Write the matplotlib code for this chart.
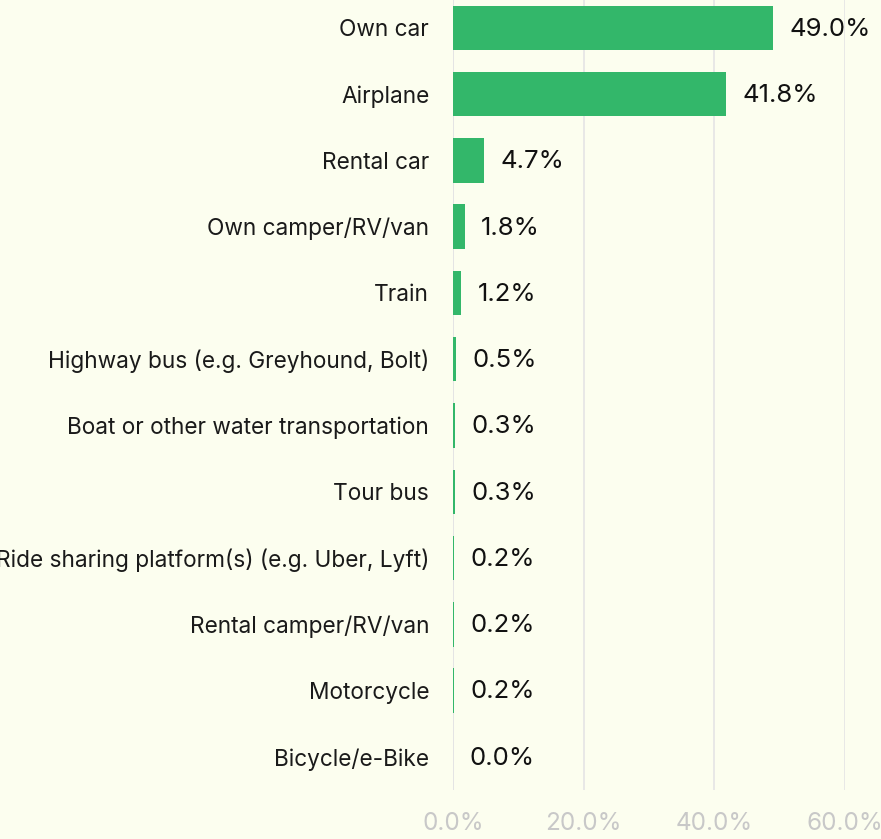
import matplotlib.pyplot as plt
from matplotlib.ticker import FuncFormatter

categories = ["Own car", "Airplane", "Rental car", "Own camper/RV/van", "Train",
              "Highway bus (e.g. Greyhound, Bolt)", "Boat or other water transportation",
              "Tour bus", "Ride sharing platform(s) (e.g. Uber, Lyft)",
              "Rental camper/RV/van", "Motorcycle", "Bicycle/e-Bike"]
shares = [49.0, 41.8, 4.7, 1.8, 1.2, 0.5, 0.3, 0.3, 0.2, 0.2, 0.2, 0.0]
xticks = [0, 20, 40, 60]

bg = "#fcfeef"
green = "#33b76a"

plt.rcParams['font.family'] = ['Inter', 'DejaVu Sans']

fig = plt.figure(figsize=(8.81, 8.39), dpi=100, facecolor=bg)
ax = fig.add_axes([0.514, 0.0584, 0.445, 0.9416])
ax.set_facecolor(bg)

y = list(range(len(categories)))
ax.barh(y, shares, height=0.67, color=green, zorder=3)
for yi, v in zip(y, shares):
    ax.annotate(f"{v:.1f}%", (v, yi), xytext=(12, -1), textcoords="offset points",
                va="center", ha="left", fontsize=18.5, color="#111111")

ax.set_xlim(0, 60)
ax.set_ylim(11.5, -0.42)
ax.set_yticks(y)
ax.set_yticklabels(categories, fontsize=16.3, color="#1a1a1a")
ax.set_xticks(xticks)
ax.xaxis.set_major_formatter(FuncFormatter(lambda v, p: f"{v:.1f}%"))
ax.tick_params(axis="x", length=0, pad=16, labelsize=17.5, labelcolor="#c8c8c8")
ax.tick_params(axis="y", length=0, pad=17)
ax.grid(axis="x", color="#e6e6e6", linewidth=1.3, zorder=0)
for s in ax.spines.values():
    s.set_visible(False)
ax.axvline(0, color="#d4d4d4", linewidth=1.3, zorder=1)

fig.savefig("out.png", dpi=100, facecolor=bg)
